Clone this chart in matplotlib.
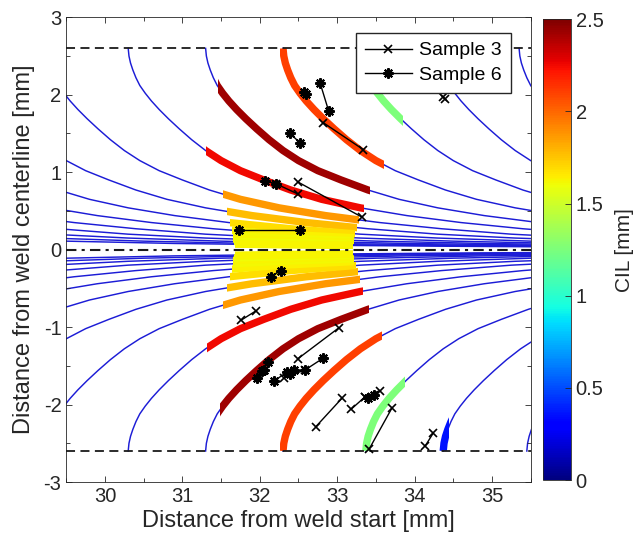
"""Grain growth paths coloured by CIL, with measured sample segments."""

import matplotlib.pyplot as plt
import numpy as np
from matplotlib.cm import ScalarMappable
from matplotlib.colors import Normalize
from matplotlib.patches import Rectangle

plt.rcParams["font.family"] = ["Liberation Sans", "DejaVu Sans"]
plt.rcParams["axes.unicode_minus"] = False

# shape of one growth path:
# distance along the weld from where the path leaves the fusion line (mm) -> |y| (mm)
path_dx = [0.00, 0.01, 0.03, 0.06, 0.10, 0.15, 0.22, 0.30, 0.40, 0.52,
           0.66, 0.82, 1.00, 1.20, 1.45, 1.75, 2.10, 2.50, 3.00, 3.60,
           4.30, 5.10, 6.00, 7.00, 8.20, 9.60, 11.2, 13.0, 15.0, 17.5]
path_y = [2.60, 2.50, 2.41, 2.32, 2.22, 2.12, 2.02, 1.92, 1.81, 1.69,
          1.56, 1.42, 1.28, 1.15, 1.02, 0.90, 0.77, 0.65, 0.54, 0.44,
          0.35, 0.27, 0.20, 0.15, 0.11, 0.08, 0.06, 0.045, 0.033, 0.024]

# where each drawn path starts on the fusion line (mm from weld start)
top_starts = [21.3, 22.3, 23.3, 24.3, 25.3, 26.3, 27.3, 28.3, 29.25,
              30.3, 31.3, 32.3, 33.3, 34.3, 35.35]
bottom_starts = [21.3, 22.3, 23.3, 24.3, 25.3, 26.3, 27.3, 28.3, 29.25,
                 30.3, 31.3, 32.3, 33.37, 34.37, 35.45]

# coloured parts of the paths: half (+1 top, -1 bottom), path start, x range, CIL
seg_half = [1, 1, 1, 1, 1, 1, 1, 1, 1, 1, 1, 1, 1,
            -1, -1, -1, -1, -1, -1, -1, -1, -1, -1, -1, -1, -1, -1]
seg_start = [33.3, 32.3, 31.3, 30.3, 29.25, 28.3, 27.3, 26.3, 25.3, 24.3, 23.3, 22.3, 21.3,
             34.37, 33.37, 32.3, 31.3, 30.3, 29.25, 28.3, 27.3, 26.3, 25.3, 24.3, 23.3, 22.3, 21.3]
seg_x_from = [33.25, 32.26, 31.46, 31.30, 31.53, 31.58, 31.62, 31.64, 31.65, 31.66, 31.67, 31.68, 31.68,
              34.30, 33.32, 32.26, 31.49, 31.32, 31.53, 31.58, 31.62, 31.64, 31.65, 31.66, 31.67, 31.68, 31.68]
seg_x_to = [33.85, 33.60, 33.42, 33.35, 33.28, 33.25, 33.23, 33.22, 33.22, 33.21, 33.21, 33.21, 33.21,
            34.45, 33.88, 33.58, 33.41, 33.34, 33.30, 33.27, 33.24, 33.22, 33.22, 33.21, 33.21, 33.21, 33.21]
seg_cil = [1.25, 2.10, 2.43, 2.25, 1.87, 1.77, 1.68, 1.64, 1.62, 1.63, 1.61, 1.62, 1.63,
           0.36, 1.25, 2.10, 2.43, 2.25, 1.87, 1.77, 1.68, 1.64, 1.62, 1.63, 1.61, 1.62, 1.63]

# measured samples: each row is one segment (x1, y1, x2, y2) in mm
sample3 = [
    (32.82, 1.64, 33.34, 1.29),
    (34.37, 1.97, 34.39, 1.95),
    (32.21, 0.85, 32.49, 0.72),
    (32.50, 0.87, 33.32, 0.42),
    (31.76, -0.91, 31.95, -0.79),
    (32.49, -1.41, 33.02, -1.01),
    (32.31, -1.66, 32.59, -1.55),
    (32.72, -2.29, 33.06, -1.92),
    (33.18, -2.06, 33.36, -1.90),
    (33.36, -1.90, 33.55, -1.82),
    (33.41, -2.58, 33.71, -2.04),
    (34.14, -2.53, 34.24, -2.37),
]
sample6 = [
    (32.78, 2.15, 32.89, 1.79),
    (32.57, 2.03, 32.60, 2.01),
    (32.39, 1.50, 32.52, 1.38),
    (32.07, 0.89, 32.21, 0.85),
    (31.73, 0.25, 32.52, 0.25),
    (32.14, -0.35, 32.27, -0.27),
    (31.96, -1.66, 32.11, -1.45),
    (32.03, -1.57, 32.05, -1.56),
    (32.18, -1.70, 32.35, -1.58),
    (32.39, -1.61, 32.44, -1.55),
    (32.59, -1.55, 32.82, -1.40),
    (33.40, -1.91, 33.47, -1.88),
]

fusion_line = 2.6
cmap = plt.get_cmap("jet")
norm = Normalize(vmin=0.0, vmax=2.5)

fig = plt.figure(figsize=(6.41, 5.48), dpi=100)
ax = fig.add_axes([0.1034, 0.1204, 0.7245, 0.848])
cax = fig.add_axes([0.8466, 0.1240, 0.0437, 0.841])

dx = np.asarray(path_dx)
py = np.asarray(path_y)

for half, starts in ((1, top_starts), (-1, bottom_starts)):
    for x0 in starts:
        ax.plot(x0 + dx, half * py, color="#1c1cd6", linewidth=1.05, zorder=1)

for half, x0, xa, xb, cil in zip(seg_half, seg_start, seg_x_from, seg_x_to, seg_cil):
    (line,) = ax.plot(
        x0 + dx,
        half * py,
        color=cmap(norm(cil)),
        linewidth=5.3,
        solid_capstyle="butt",
        solid_joinstyle="round",
        zorder=2,
    )
    line.set_clip_path(
        Rectangle((xa, -fusion_line), xb - xa, 2 * fusion_line, transform=ax.transData)
    )

for level in (fusion_line, -fusion_line):
    ax.axhline(level, color="#1a1a1a", linestyle=(0, (5, 3)), linewidth=1.3, zorder=3)
ax.axhline(0.0, color="#1a1a1a", linestyle=(0, (5, 2.5, 1.5, 2.5)), linewidth=1.5, zorder=3)

for i, (x1, y1, x2, y2) in enumerate(sample3):
    ax.plot([x1, x2], [y1, y2], color="black", linewidth=1.0, marker="x",
            markersize=6, markeredgewidth=1.2, zorder=4,
            label="Sample 3" if i == 0 else None)
for i, (x1, y1, x2, y2) in enumerate(sample6):
    ax.plot([x1, x2], [y1, y2], color="black", linewidth=1.0, marker=(8, 2, 0),
            markersize=7.5, markeredgewidth=1.5, zorder=4,
            label="Sample 6" if i == 0 else None)

ax.set_xlim(29.5, 35.5)
ax.set_ylim(-3, 3)
ax.set_xticks([30, 31, 32, 33, 34, 35])
ax.set_yticks([-3, -2, -1, 0, 1, 2, 3])
ax.set_xticks(np.arange(29.5, 35.6, 0.5), minor=True)
ax.set_yticks(np.arange(-3, 3.1, 0.5), minor=True)
ax.tick_params(which="both", direction="in", top=True, right=True,
               colors="#262626", labelsize=14.5, width=0.6)
ax.tick_params(which="major", length=4.5)
ax.tick_params(which="minor", length=3)
for spine in ax.spines.values():
    spine.set_color("#262626")
    spine.set_linewidth(0.6)
ax.set_xlabel("Distance from weld start [mm]", fontsize=17, color="#262626", labelpad=3)
ax.set_ylabel("Distance from weld centerline [mm]", fontsize=17, color="#262626", labelpad=6)

ax.legend(loc="upper right", bbox_to_anchor=(0.957, 0.966), borderaxespad=0.0,
          fontsize=14, frameon=True, fancybox=False, edgecolor="#262626",
          framealpha=1.0, handlelength=2.4, handletextpad=0.4, borderpad=0.45,
          labelspacing=0.35)

colorbar = fig.colorbar(ScalarMappable(norm=norm, cmap=cmap), cax=cax,
                        ticks=[0, 0.5, 1, 1.5, 2, 2.5])
colorbar.ax.set_yticklabels(["0", "0.5", "1", "1.5", "2", "2.5"])
colorbar.ax.tick_params(direction="in", length=4, labelsize=14.5, colors="#262626", width=0.6)
colorbar.outline.set_edgecolor("#262626")
colorbar.outline.set_linewidth(0.6)
colorbar.set_label("CIL [mm]", fontsize=15, color="#262626", labelpad=8)

fig.savefig("out.png", dpi=100)
